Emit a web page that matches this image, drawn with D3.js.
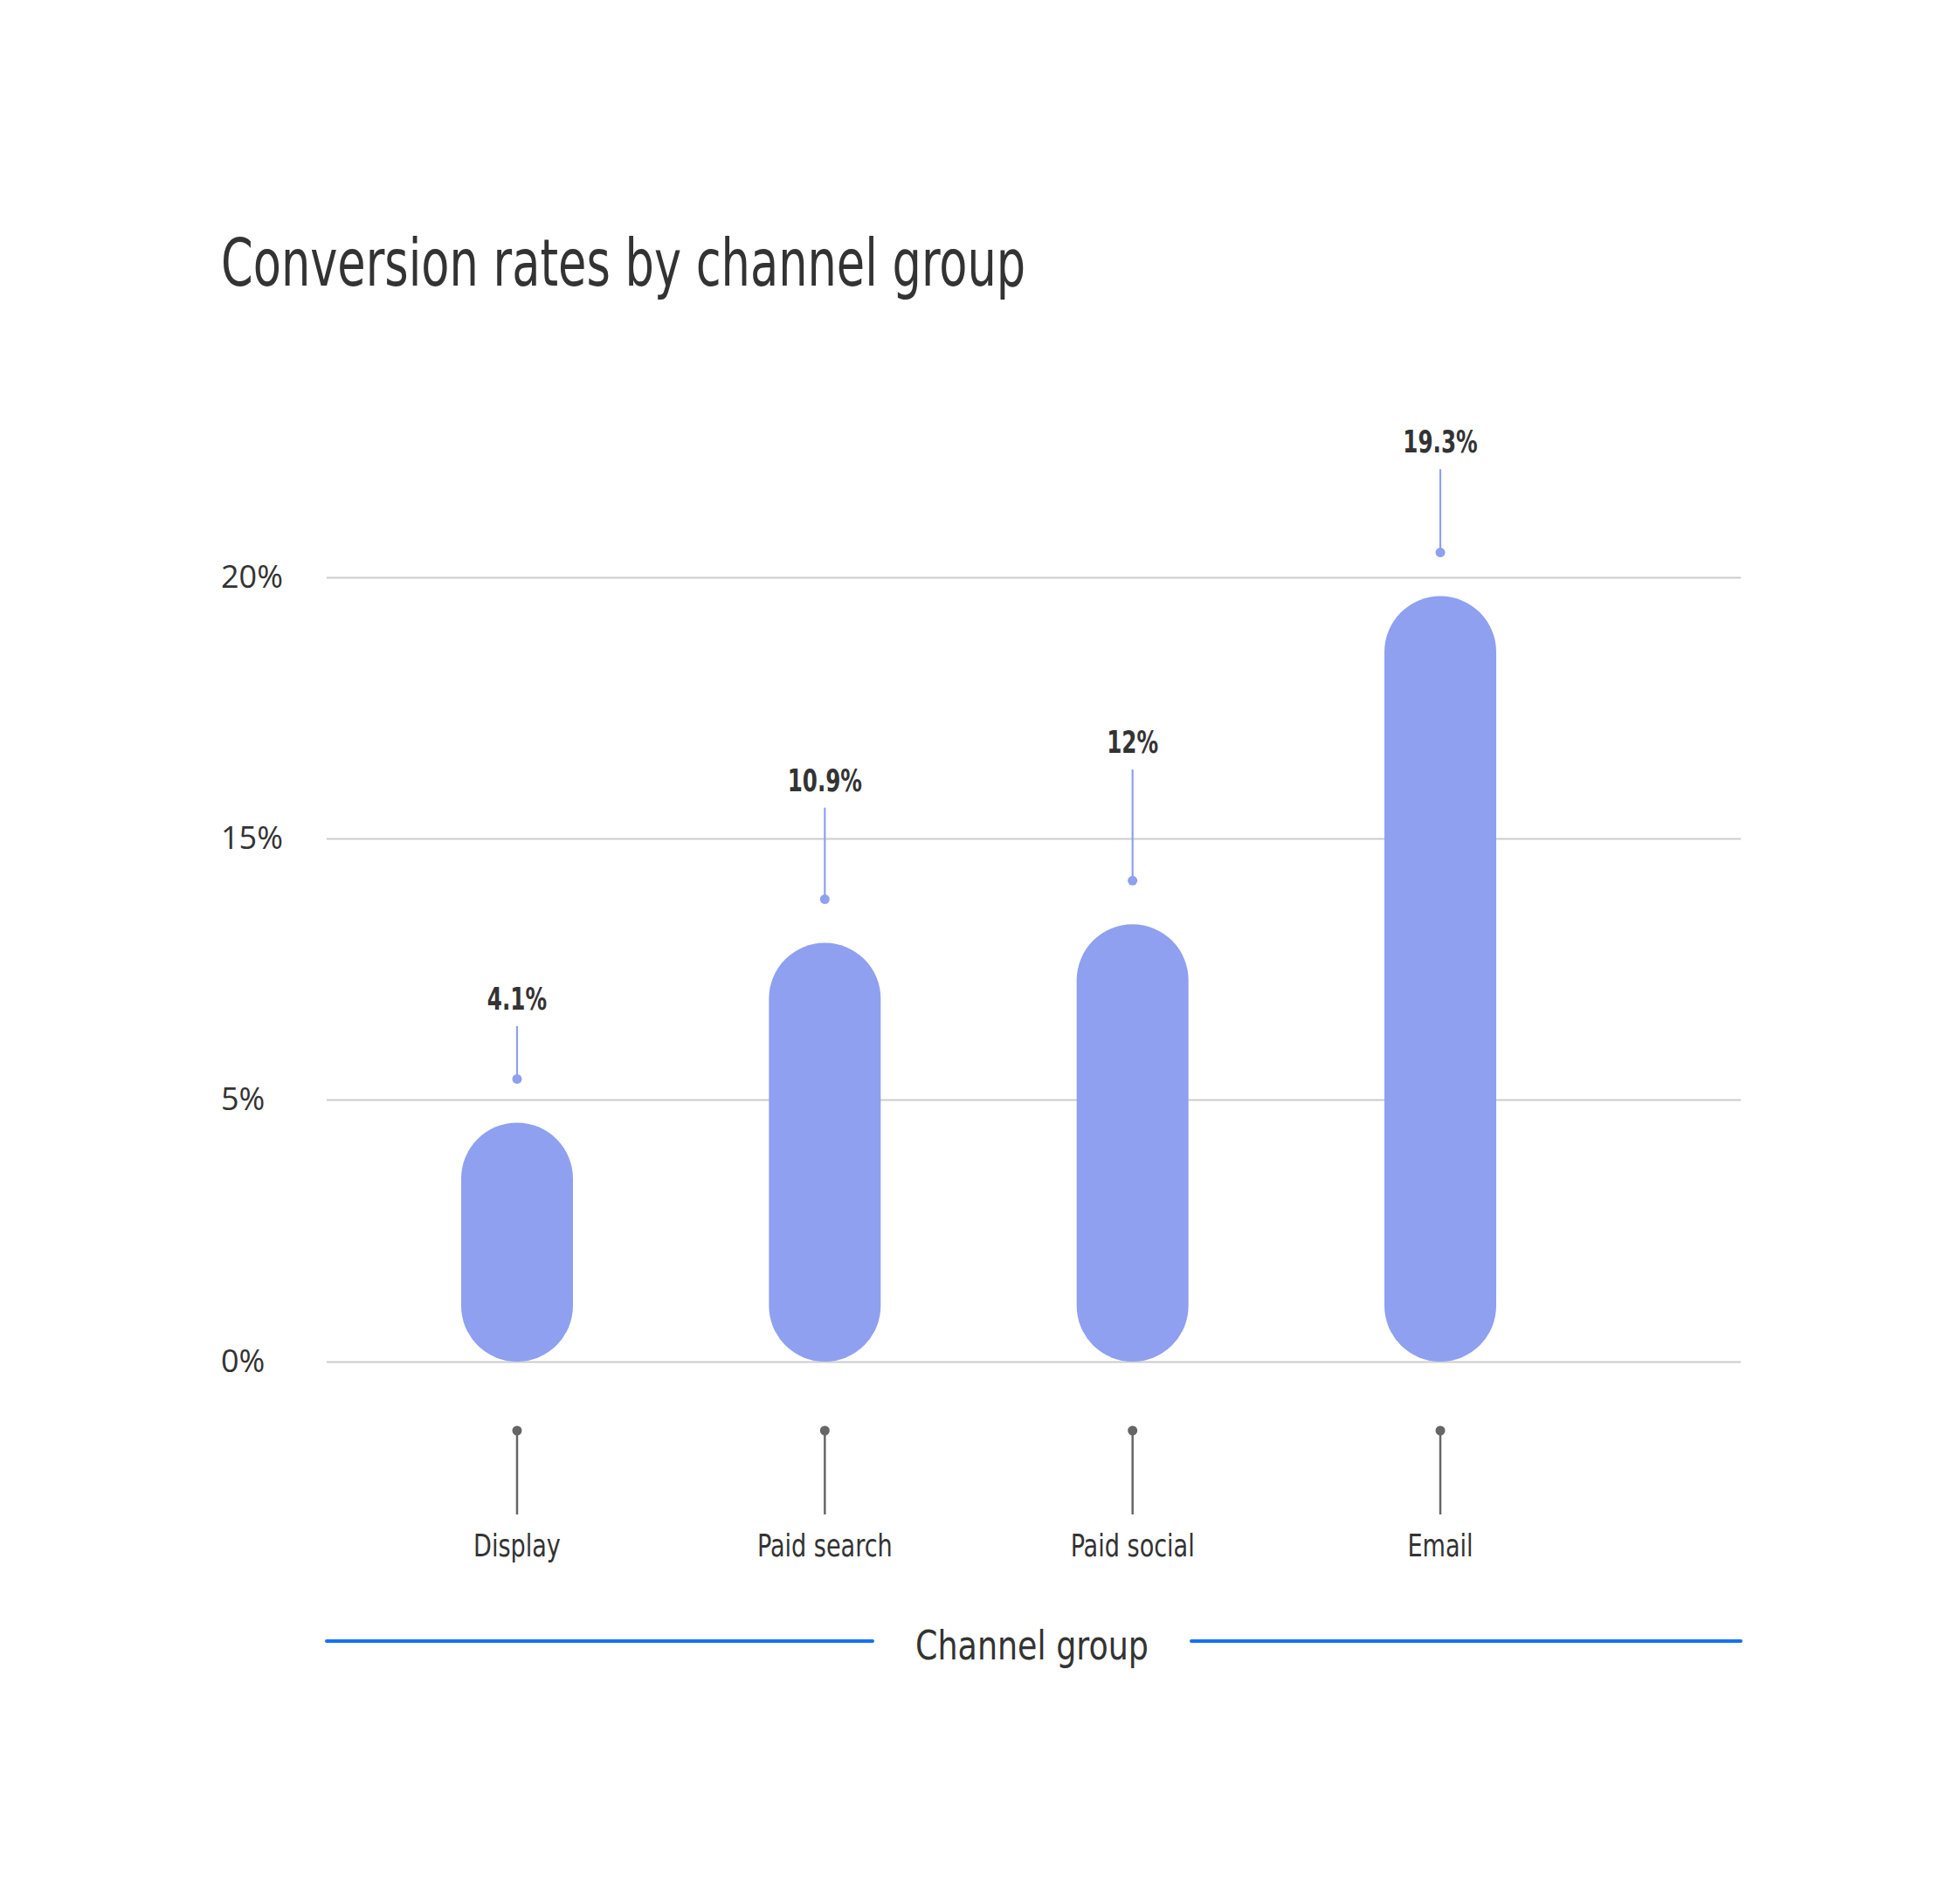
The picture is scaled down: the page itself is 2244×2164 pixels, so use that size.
<!DOCTYPE html>
<html>
<head>
<meta charset="utf-8">
<script src="https://cdn.jsdelivr.net/npm/d3@7"></script>
<style>
  body { margin: 0; background: #fff; }
  .cond { font-family: "DejaVu Sans Condensed", "DejaVu Sans", sans-serif; }
</style>
</head>
<body>
<svg id="chart"></svg>
<script>
// channel groups and what the picture shows for them
var channels = ["Display", "Paid search", "Paid social", "Email"];
// bar tops as read against the y axis
var rates = [4.56, 11.0, 11.71, 19.64];
// value labels printed over the bars
var rateLabels = ["4.1%", "10.9%", "12%", "19.3%"];
// level (on the y axis) where each callout stem starts
var calloutAt = [7.81, 15.59, 16.32, 22.07];
// the axis only carries these ticks, evenly spaced
var yTicks = [0, 5, 15, 20];

var w = 2244;
var h = 2164;
var left = 374, right = 1993;
var barColor = "#8fa0f0";
var ink = "#333333";

var svg = d3.select("#chart").attr("width", w).attr("height", h);

// no narrow font installed, so squeeze the condensed one a bit more
function squeeze(sel, k) {
  sel.each(function() {
    var len = this.getComputedTextLength();
    d3.select(this)
      .attr("textLength", len * k)
      .attr("lengthAdjust", "spacingAndGlyphs");
  });
}

// title
svg.append("text")
  .attr("class", "cond")
  .attr("x", 253)
  .attr("y", 327)
  .attr("font-size", 74)
  .attr("fill", ink)
  .text("Conversion rates by channel group")
  .call(squeeze, 0.79);

// piecewise scale, ticks sit at equal steps
var y = d3.scaleLinear()
  .domain(yTicks)
  .range([1559, 1259, 960, 661]);

var x = d3.scalePoint()
  .domain(channels)
  .range([415.8, 1825.2])
  .padding(0.5);

var barW = 128;

// y axis + gridlines
var yAxis = d3.axisLeft(y)
  .tickValues(yTicks)
  .tickSize(-(right - left))
  .tickPadding(0)
  .tickFormat(function(d) { return d + "%"; });

var gy = svg.append("g")
  .attr("transform", "translate(" + left + ",0)")
  .call(yAxis);
gy.select(".domain").remove();
gy.selectAll(".tick line")
  .attr("stroke", "#cccccc")
  .attr("stroke-width", 2);
gy.selectAll(".tick text")
  .attr("x", 253 - left)
  .attr("text-anchor", "start")
  .attr("font-family", "'Open Sans', sans-serif")
  .attr("font-size", 36)
  .attr("fill", ink);

// bars (pill shaped)
svg.selectAll("rect.bar")
  .data(rates)
  .enter()
  .append("rect")
  .attr("class", "bar")
  .attr("x", function(d, i) { return x(channels[i]) - barW / 2; })
  .attr("y", function(d) { return y(d); })
  .attr("width", barW)
  .attr("height", function(d) { return y(0) - y(d); })
  .attr("rx", barW / 2)
  .attr("ry", barW / 2)
  .attr("fill", barColor);

// callouts: dot above bar, stem, label
var call = svg.selectAll("g.callout")
  .data(rates)
  .enter()
  .append("g")
  .attr("class", "callout")
  .attr("transform", function(d, i) { return "translate(" + x(channels[i]) + ",0)"; });

call.append("line")
  .attr("y1", function(d, i) { return y(calloutAt[i]); })
  .attr("y2", function(d) { return y(d) - 50; })
  .attr("stroke", barColor)
  .attr("stroke-width", 2.2);

call.append("circle")
  .attr("cy", function(d) { return y(d) - 50; })
  .attr("r", 5.5)
  .attr("fill", barColor);

call.append("text")
  .attr("class", "cond")
  .attr("y", function(d, i) { return y(calloutAt[i]) - 19; })
  .attr("text-anchor", "middle")
  .attr("font-size", 36)
  .attr("font-weight", "bold")
  .attr("fill", ink)
  .text(function(d, i) { return rateLabels[i]; })
  .call(squeeze, 0.76);

// x ticks: dot, stem, category name
var xt = svg.selectAll("g.xtick")
  .data(channels)
  .enter()
  .append("g")
  .attr("class", "xtick")
  .attr("transform", function(d) { return "translate(" + x(d) + ",0)"; });

xt.append("line")
  .attr("y1", 1638)
  .attr("y2", 1734)
  .attr("stroke", "#666666")
  .attr("stroke-width", 2.5);

xt.append("circle")
  .attr("cy", 1638)
  .attr("r", 5.5)
  .attr("fill", "#666666");

xt.append("text")
  .attr("class", "cond")
  .attr("y", 1782)
  .attr("text-anchor", "middle")
  .attr("font-size", 35)
  .attr("fill", ink)
  .text(function(d) { return d; })
  .call(squeeze, 0.86);

// axis title with blue rules either side
var titleY = 1879;
svg.append("line")
  .attr("x1", left).attr("x2", 999)
  .attr("y1", titleY).attr("y2", titleY)
  .attr("stroke", "#1672f5")
  .attr("stroke-width", 4)
  .attr("stroke-linecap", "round");
svg.append("line")
  .attr("x1", 1364).attr("x2", right)
  .attr("y1", titleY).attr("y2", titleY)
  .attr("stroke", "#1672f5")
  .attr("stroke-width", 4)
  .attr("stroke-linecap", "round");
svg.append("text")
  .attr("class", "cond")
  .attr("x", (999 + 1364) / 2)
  .attr("y", 1900)
  .attr("text-anchor", "middle")
  .attr("font-size", 46)
  .attr("fill", ink)
  .text("Channel group")
  .call(squeeze, 0.88);
</script>
</body>
</html>
